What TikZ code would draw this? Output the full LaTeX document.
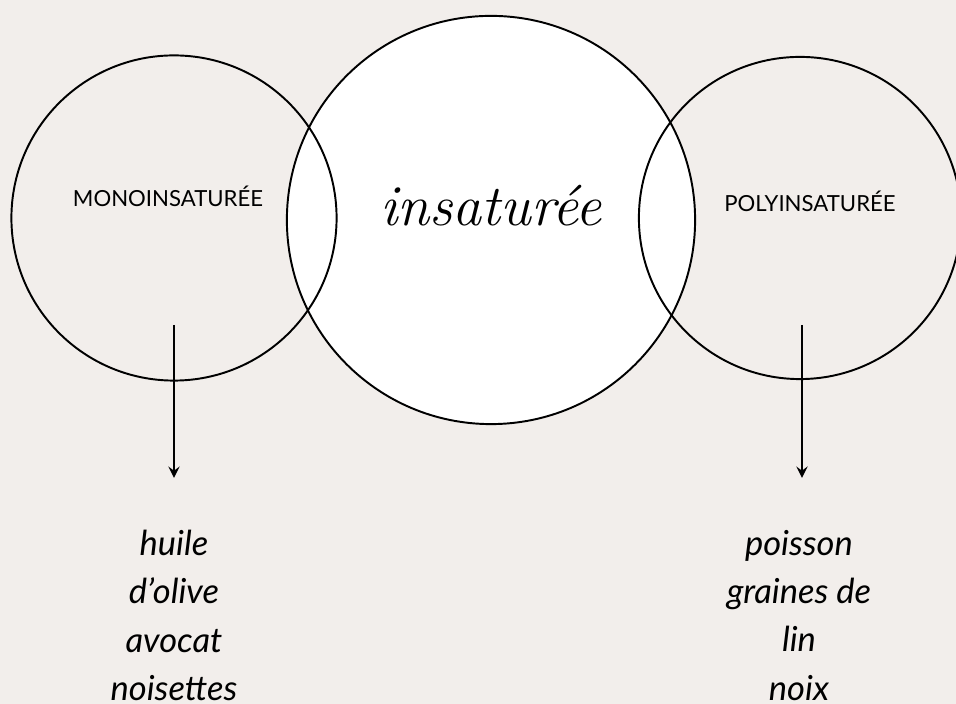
\documentclass[tikz,border=0pt]{standalone}
\usepackage{fontspec}
\setmainfont{Lato}
\usepackage{xcolor}
\usepackage{tikz}
\usetikzlibrary{arrows,positioning,shapes.geometric}

\definecolor{fond}{RGB}{242,238,235}
\newcommand{\ecriture}{\fontfamily{lmr}\fontshape{it}\selectfont}

\begin{document}
\begin{tikzpicture}[
x=0.01cm, y=-0.01cm,
font=\normalfont,
rond/.style={circle,draw,line width=0.55pt,inner sep=0pt},
etiquette/.style={font=\fontsize{6.3}{7}\selectfont,anchor=base},
liste/.style={font=\fontsize{9.8}{13.7}\selectfont\itshape,align=center,anchor=north},
fleche/.style={->,line width=0.45pt,>=stealth}
]
    % Background
    \fill [fond] (0,0) rectangle (956,704);
    \useasboundingbox (0,0) rectangle (956,704);

    % Draw circles
    \node (insat) [rond, fill=white, minimum size=4.08cm] at (491,220) {};
    \node (mono) [rond, minimum size=3.25cm] at (174,218) {};
    \node (poly) [rond, minimum size=3.22cm] at (800,218) {};

    \node (monotxt) [etiquette] at (168,207) {MONOINSATURÉE};
    \node (polytxt) [etiquette] at (810,212) {POLYINSATURÉE};
    \node (insattxt) [anchor=base, font=\fontsize{16.5}{18}\ecriture] at (491,226) {insaturée};

    \draw
    (174,325) coordinate (A)
    (174,478) coordinate (A2)
    (802,325) coordinate (B)
    (802,478) coordinate (B2);

    \draw[fleche] (A) -- (A2);
    \draw[fleche] (B) -- (B2);

    \node (monoliste) [liste] at (174,518) {huile\\d’olive\\avocat\\noisettes};
    \node (polyliste) [liste] at (799,518) {poisson\\graines de\\lin\\noix};
\end{tikzpicture}
\end{document}
